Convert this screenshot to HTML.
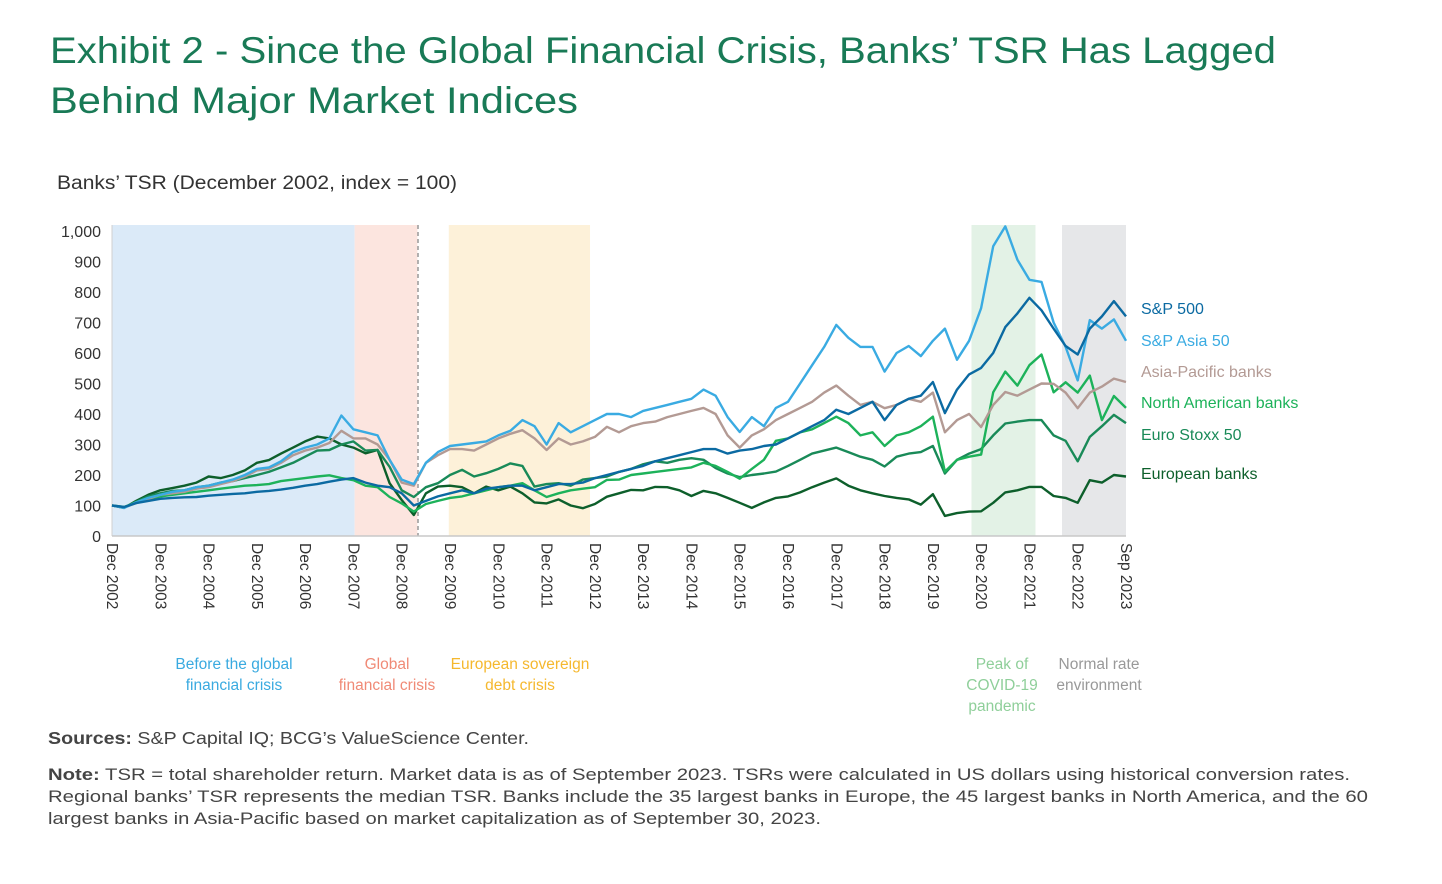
<!DOCTYPE html>
<html><head><meta charset="utf-8"><style>
body{margin:0;background:#fff;}
svg{display:block;font-family:"Liberation Sans",sans-serif;}
</style></head><body>
<svg id="chart" width="1442" height="884" viewBox="0 0 1442 884">
<text x="50" y="63" font-size="37" fill="#197a56" textLength="1226" lengthAdjust="spacingAndGlyphs">Exhibit 2 - Since the Global Financial Crisis, Banks’ TSR Has Lagged</text>
<text x="50" y="113" font-size="37" fill="#197a56" textLength="528" lengthAdjust="spacingAndGlyphs">Behind Major Market Indices</text>
<text x="57" y="189" font-size="19" fill="#333" textLength="400" lengthAdjust="spacingAndGlyphs">Banks’ TSR (December 2002, index = 100)</text>
<g id="bands"></g>
<line x1="418" y1="225" x2="418" y2="536" stroke="#999" stroke-width="1.5" stroke-dasharray="4,3"/>
<g id="yaxis"></g>
<g id="xaxis"></g>
<g id="lines"></g>
<g id="legend"></g>
<g font-size="15.5" text-anchor="middle">
<text x="234" y="669" fill="#3aaae0">Before the global</text>
<text x="234" y="690" fill="#3aaae0">financial crisis</text>
<text x="387" y="669" fill="#f08a76">Global</text>
<text x="387" y="690" fill="#f08a76">financial crisis</text>
<text x="520" y="669" fill="#f5b82e">European sovereign</text>
<text x="520" y="690" fill="#f5b82e">debt crisis</text>
<text x="1002" y="669" fill="#8fcf9a">Peak of</text>
<text x="1002" y="690" fill="#8fcf9a">COVID-19</text>
<text x="1002" y="711" fill="#8fcf9a">pandemic</text>
<text x="1099" y="669" fill="#999">Normal rate</text>
<text x="1099" y="690" fill="#999">environment</text>
</g>
<text x="48" y="744" font-size="17.5" fill="#444" textLength="481" lengthAdjust="spacingAndGlyphs"><tspan font-weight="bold">Sources:</tspan> S&amp;P Capital IQ; BCG’s ValueScience Center.</text>
<g font-size="16.5" fill="#444">
<text x="48" y="780" textLength="1302" lengthAdjust="spacingAndGlyphs"><tspan font-weight="bold">Note:</tspan> TSR = total shareholder return. Market data is as of September 2023. TSRs were calculated in US dollars using historical conversion rates.</text>
<text x="48" y="802" textLength="1320" lengthAdjust="spacingAndGlyphs">Regional banks’ TSR represents the median TSR. Banks include the 35 largest banks in Europe, the 45 largest banks in North America, and the 60</text>
<text x="48" y="824" textLength="773" lengthAdjust="spacingAndGlyphs">largest banks in Asia-Pacific based on market capitalization as of September 30, 2023.</text>
</g>
</svg>
<script>
const yTicks=[0,100,200,300,400,500,600,700,800,900,1000];
const yTickLabels=["0","100","200","300","400","500","600","700","800","900","1,000"];
const xTickLabels=["Dec 2002","Dec 2003","Dec 2004","Dec 2005","Dec 2006","Dec 2007","Dec 2008","Dec 2009","Dec 2010","Dec 2011","Dec 2012","Dec 2013","Dec 2014","Dec 2015","Dec 2016","Dec 2017","Dec 2018","Dec 2019","Dec 2020","Dec 2021","Dec 2022","Sep 2023"];
const seriesNames=["S&P 500","S&P Asia 50","Asia-Pacific banks","North American banks","Euro Stoxx 50","European banks"];
const sp500=[100,95,108,115,122,125,127,128,132,135,138,140,145,148,152,158,165,170,178,185,190,175,165,160,140,100,115,130,140,150,140,155,160,165,165,150,160,170,170,175,190,200,210,220,230,245,255,265,275,285,285,270,280,285,295,300,320,340,360,380,414,400,420,440,380,430,450,460,505,403,480,530,551,600,685,730,781,740,680,623,595,680,720,770,720];
const spAsia=[100,92,110,125,135,145,150,160,165,175,185,200,220,225,245,275,290,300,320,395,350,340,330,250,185,170,240,275,295,300,305,310,330,345,380,360,300,370,340,360,380,400,400,390,410,420,430,440,450,480,460,390,341,390,360,420,440,500,560,620,692,650,620,620,539,600,623,590,640,680,578,640,747,950,1015,906,840,833,700,620,510,708,680,710,640];
const apBanks=[100,93,108,122,135,140,145,155,160,170,180,195,215,220,240,265,280,290,305,345,320,320,300,250,175,165,240,265,285,285,280,300,320,335,347,320,282,320,300,310,325,358,340,360,370,375,390,400,410,420,400,330,290,330,350,380,400,420,440,470,493,460,430,440,419,430,450,440,470,340,380,400,357,430,472,460,480,500,499,470,419,470,490,516,505];
const naBanks=[100,95,110,120,130,135,140,145,150,155,160,165,167,170,180,185,190,195,199,190,183,165,160,128,107,80,105,115,125,130,140,150,160,165,173,150,128,140,150,155,160,184,185,200,205,210,215,220,225,240,230,210,188,220,250,312,320,340,350,370,391,370,330,340,295,330,340,360,391,211,250,260,267,471,539,493,560,595,471,504,470,526,380,459,420];
const euroStoxx=[100,93,112,130,140,148,150,160,165,175,180,190,200,210,225,240,260,280,282,300,310,280,282,227,150,128,160,173,200,217,195,206,220,238,230,162,170,173,165,185,190,195,210,220,235,245,240,250,255,250,223,205,193,200,205,211,230,250,270,280,290,275,260,250,228,260,270,275,295,205,250,270,285,330,369,375,380,380,330,312,245,325,360,397,370];
const euBanks=[100,92,115,135,150,157,165,175,195,190,200,215,240,249,270,290,310,326,320,300,290,271,282,173,118,69,140,162,165,160,140,162,150,162,140,110,107,120,100,91,105,129,140,151,150,161,160,150,131,148,140,125,109,92,110,125,130,143,160,175,189,165,150,140,131,125,120,103,137,66,75,80,81,109,143,150,161,161,131,125,109,183,175,200,195];
const bandStarts=[0,20.1,27.9,71.2,78.7];
const bandEnds=[20.1,25.3,39.6,76.5,84];

const NS="http://www.w3.org/2000/svg";
const X0=112,X1=1126,Y0=536,Y1=231;
const nQ=84;
function xs(q){return X0+(X1-X0)*q/nQ;}
function ys(v){return Y0-(Y0-Y1)*v/1000;}
function mk(tag,attrs,parent){const e=document.createElementNS(NS,tag);for(const k in attrs)e.setAttribute(k,attrs[k]);parent.appendChild(e);return e;}

const bandColors=["#dbeaf8","#fce5df","#fdf1d9","#e3f2e6","#e6e7e9"];
const bandNames=["band-pre-gfc","band-gfc","band-sovereign-debt","band-covid","band-normal-rate"];
const bands=document.getElementById('bands');
bandStarts.forEach((s,i)=>{
  const r=mk('rect',{x:xs(s),y:225,width:xs(bandEnds[i])-xs(s),height:Y0-225,fill:bandColors[i]},bands);
  
  
});

const yax=document.getElementById('yaxis');
mk('line',{x1:X0,y1:225,x2:X0,y2:Y0,stroke:'#d0d0d0','stroke-width':1},yax);
mk('line',{x1:X0,y1:Y0,x2:X1,y2:Y0,stroke:'#c8c8c8','stroke-width':1.5},yax);
yTicks.forEach((v,i)=>{
  const t=mk('text',{x:101,y:ys(v)+6,'text-anchor':'end','font-size':16,fill:'#333'},yax);
  t.textContent=yTickLabels[i];
  
  
});
const xax=document.getElementById('xaxis');
xTickLabels.forEach((lab,i)=>{
  const x=xs(i*4)+3;
  const t=mk('text',{x:0,y:0,'font-size':15.5,fill:'#333',transform:`translate(${x-8},543) rotate(90)`},xax);
  t.textContent=lab;
  
  
});

const series=[sp500,spAsia,apBanks,naBanks,euroStoxx,euBanks];
const colors=["#0b6aa2","#3aabe2","#b39a94","#1db25a","#198a58","#0d5f2b"];
const lineNames=["line-sp500","line-sp-asia-50","line-asia-pacific-banks","line-north-american-banks","line-euro-stoxx-50","line-european-banks"];
const order=[5,4,3,2,1,0];
const lines=document.getElementById('lines');
order.forEach(i=>{
  const d=series[i].map((v,q)=>(q?'L':'M')+xs(q).toFixed(1)+','+ys(v).toFixed(1)).join('');
  const p=mk('path',{d:d,fill:'none',stroke:colors[i],'stroke-width':2.4,'stroke-linejoin':'round'},lines);
  
  
});
const legendY=[308,340,371,402,434,473];
const leg=document.getElementById('legend');
seriesNames.forEach((n,i)=>{
  const t=mk('text',{x:1141,y:legendY[i]+6,'font-size':16,fill:colors[i]},leg);
  t.textContent=n;
  
  
});
</script>
</body></html>
